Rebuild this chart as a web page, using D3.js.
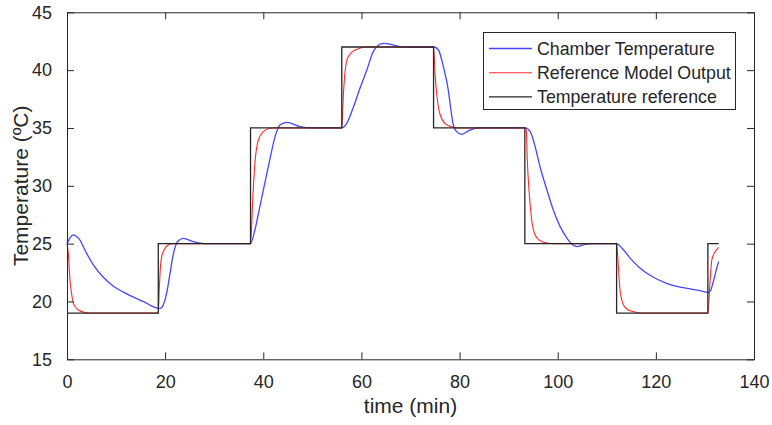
<!DOCTYPE html>
<html lang="en">

<head>
    <meta charset="UTF-8">
    <script src="https://d3js.org/d3.v7.min.js"></script>
    <title>Chamber Temperature</title>
    <style>
        body { margin: 0; background: #fff; }
        svg { display: block; }
        text { font-family: "Liberation Sans", Arial, sans-serif; fill: #262626; }
    </style>
</head>

<body>
    <div id="chart-container"></div>
    <script>
        // chamber temperature (blue)
        const chamberTime = [0, 0.6, 1.3, 2.0, 2.65, 3.3, 4.0, 5.4, 7.4, 9.4, 12.2, 15.6, 18.6, 19.0, 19.6, 20.3, 21.0, 21.7, 22.7, 23.7, 25.7, 28,
            37.4, 38.3, 39.3, 40.3, 41.3, 42.4, 43.4, 44.8, 47.5, 50,
            56.0, 57.0, 58.4, 59.7, 61.1, 62.4, 63.5, 64.5, 66.5, 67.9, 70,
            74.8, 75.7, 76.7, 77.7, 78.2, 78.7, 79.4, 80.4, 82.1, 84.2,
            93.4, 94.4, 95.4, 96.4, 97.8, 99.1, 100.5, 101.9, 102.9, 103.9, 105.6, 107.2,
            112.0, 113.1, 114.8, 116.8, 119.5, 122.2, 125.6, 129.0, 130.6, 131.1, 131.7, 132.4, 132.8];
        const chamberTemp = [25.0, 25.5, 25.75, 25.6, 25.3, 24.75, 24.16, 23.15, 22.09, 21.34, 20.65, 19.98, 19.41, 19.4, 19.7, 20.7, 22.43, 24.16, 25.25, 25.46, 25.17, 25.0,
            25.0, 26.2, 28.2, 30.2, 32.2, 34.25, 35.26, 35.49, 35.11, 35.0,
            35.0, 35.4, 36.84, 38.43, 40.01, 41.6, 42.17, 42.32, 42.17, 42.03, 42.0,
            42.0, 41.74, 40.3, 38.28, 36.7, 35.3, 34.68, 34.45, 34.82, 35.0,
            35.0, 34.68, 33.38, 31.65, 29.64, 27.91, 26.47, 25.46, 24.94, 24.74, 24.94, 25.0,
            25.0, 24.6, 23.73, 22.87, 22.09, 21.57, 21.19, 20.93, 20.79, 20.9, 21.7, 22.87, 23.44];

        // reference model output (red)
        const modelTime = [0, 0.27, 0.6, 1.0, 1.3, 2.3, 3.7, 5,
            18.6, 18.8, 19.0, 19.3, 20.0, 21.0, 22,
            37.4, 37.85, 38.3, 39.0, 40.0, 41.4, 42.5,
            56.0, 56.3, 56.7, 57.3, 58.7, 61.1,
            74.7, 75.0, 75.4, 76.0, 77.0, 78.7, 80,
            93.36, 93.6, 93.8, 94.2, 94.7, 95.4, 96.4, 97.8, 99,
            112.0, 112.4, 112.7, 113.4, 114.4, 116.2, 117.5,
            130.6, 131.1, 131.4, 132.1, 132.8];
        const modelTemp = [25.0, 24.16, 21.86, 20.5, 19.84, 19.26, 19.05, 19.0,
            19.0, 21.0, 22.72, 23.87, 24.6, 24.97, 25.0,
            25.0, 28.8, 32.0, 33.96, 34.68, 34.97, 35.0,
            35.0, 37.7, 40.0, 41.16, 41.74, 42.0,
            42.0, 39.7, 37.7, 36.2, 35.4, 35.05, 35.0,
            35.0, 34.82, 32.23, 29.35, 27.04, 25.75, 25.26, 25.05, 25.0,
            25.0, 22.72, 20.99, 19.7, 19.26, 19.05, 19.0,
            19.0, 22.14, 23.58, 24.3, 24.68];

        // temperature reference (black steps)
        const refTime = [0, 18.6, 37.4, 56.0, 74.7, 93.3, 112.0, 130.6, 132.8];
        const refTemp = [19, 25, 35, 42, 35, 25, 19, 25, 25];

        const xTicks = [0, 20, 40, 60, 80, 100, 120, 140];
        const yTicks = [15, 20, 25, 30, 35, 40, 45];
        const legendNames = ["Chamber Temperature", "Reference Model Output", "Temperature reference"];
        const legendColors = ["#4646ff", "#ff2a2a", "#262626"];

        const w = 772, h = 425;
        const plotLeft = 67, plotRight = 754, plotTop = 12.3, plotBottom = 359.3;

        const svg = d3.select("#chart-container")
            .append("svg")
            .attr("width", w)
            .attr("height", h);

        const xScale = d3.scaleLinear().domain([0, 140]).range([plotLeft, plotRight]);
        const yScale = d3.scaleLinear().domain([15, 45]).range([plotBottom, plotTop]);

        const zip = (ts, vs) => ts.map((t, i) => [t, vs[i]]);

        const smoothLine = d3.line()
            .x(d => xScale(d[0]))
            .y(d => yScale(d[1]))
            .curve(d3.curveMonotoneX);

        const stepLine = d3.line()
            .x(d => xScale(d[0]))
            .y(d => yScale(d[1]))
            .curve(d3.curveStepAfter);

        svg.append("path")
            .datum(zip(chamberTime, chamberTemp))
            .attr("fill", "none")
            .attr("stroke", legendColors[0])
            .attr("stroke-width", 1.3)
            .attr("d", smoothLine);

        svg.append("path")
            .datum(zip(modelTime, modelTemp))
            .attr("fill", "none")
            .attr("stroke", legendColors[1])
            .attr("stroke-width", 1.1)
            .attr("d", smoothLine);

        svg.append("path")
            .datum(zip(refTime, refTemp))
            .attr("fill", "none")
            .attr("stroke", legendColors[2])
            .attr("stroke-width", 1.3)
            .attr("d", stepLine);

        // axes (box with inward ticks on all sides)
        const tickLen = 7;
        const axisStyle = g => {
            g.select(".domain").attr("stroke", "#262626");
            g.selectAll(".tick line").attr("stroke", "#262626");
            g.selectAll(".tick text").attr("font-size", "18px").attr("fill", "#262626")
                .attr("font-family", "'Liberation Sans', Arial, sans-serif");
        };

        svg.append("g")
            .attr("transform", `translate(0,${plotBottom})`)
            .call(d3.axisBottom(xScale).tickValues(xTicks).tickSizeInner(-tickLen).tickSizeOuter(0).tickPadding(16))
            .call(axisStyle);

        svg.append("g")
            .attr("transform", `translate(0,${plotTop})`)
            .call(d3.axisTop(xScale).tickValues(xTicks).tickSizeInner(-tickLen).tickSizeOuter(0).tickFormat(""))
            .call(axisStyle);

        svg.append("g")
            .attr("transform", `translate(${plotLeft},0)`)
            .call(d3.axisLeft(yScale).tickValues(yTicks).tickSizeInner(-tickLen).tickSizeOuter(0).tickPadding(15))
            .call(axisStyle);

        svg.append("g")
            .attr("transform", `translate(${plotRight},0)`)
            .call(d3.axisRight(yScale).tickValues(yTicks).tickSizeInner(-tickLen).tickSizeOuter(0).tickFormat(""))
            .call(axisStyle);

        // axis labels
        svg.append("text")
            .attr("x", (plotLeft + plotRight) / 2)
            .attr("y", 413)
            .attr("text-anchor", "middle")
            .attr("font-size", "21px")
            .text("time (min)");

        svg.append("text")
            .attr("transform", `translate(28,${(plotTop + plotBottom) / 2}) rotate(-90)`)
            .attr("text-anchor", "middle")
            .attr("font-size", "21px")
            .text("Temperature (ºC)");

        // legend
        const legend = svg.append("g");
        legend.append("rect")
            .attr("x", 483.5)
            .attr("y", 32.5)
            .attr("width", 252)
            .attr("height", 77)
            .attr("fill", "#fff")
            .attr("stroke", "#262626")
            .attr("stroke-width", 1);

        legendNames.forEach((name, i) => {
            const y = 48.5 + i * 24.2;
            legend.append("line")
                .attr("x1", 489).attr("x2", 532)
                .attr("y1", y).attr("y2", y)
                .attr("stroke", legendColors[i])
                .attr("stroke-width", i === 0 ? 1.3 : 1.1);
            legend.append("text")
                .attr("x", 537)
                .attr("y", y)
                .attr("dy", "0.35em")
                .attr("font-size", "17.8px")
                .text(name);
        });
    </script>
</body>

</html>
